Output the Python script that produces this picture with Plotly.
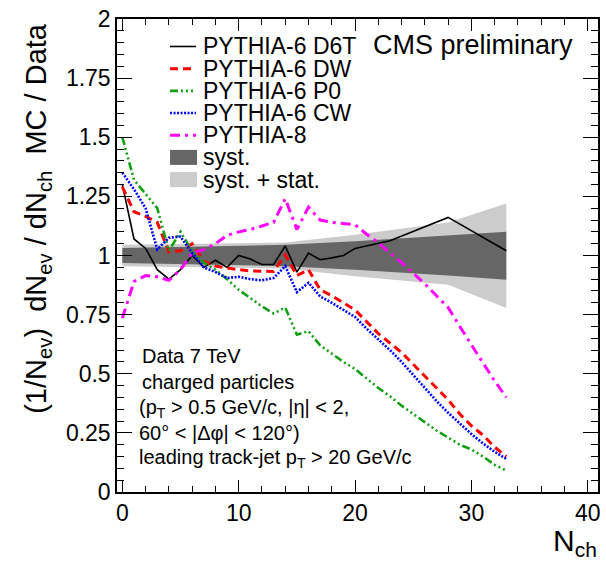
import plotly.graph_objects as go

# ---------------- data ----------------
nch = list(range(0, 34))

d6t_x = list(range(0, 21)) + [23, 28, 33]
d6t_y = [1.30, 1.07, 1.03, 0.94, 0.90, 0.94, 1.00, 0.95, 0.98, 0.95, 1.00, 0.985, 0.962, 0.962,
         1.04, 0.93, 1.01, 0.982, 0.99, 1.00, 1.03, 1.062, 1.161, 1.02]

dw_y = [1.29, 1.185, 1.165, 1.14, 1.015, 1.02, 1.05, 0.975, 0.955, 0.946, 0.94, 0.935, 0.932, 0.932,
        1.003, 0.915, 0.94, 0.855, 0.83, 0.80, 0.77, 0.72, 0.67, 0.63, 0.59, 0.54, 0.49, 0.44,
        0.39, 0.33, 0.28, 0.24, 0.19, 0.15]

p0_y = [1.50, 1.32, 1.26, 1.20, 1.02, 1.10, 1.02, 0.97, 0.94, 0.90, 0.855, 0.82, 0.785, 0.755,
        0.78, 0.665, 0.68, 0.62, 0.585, 0.55, 0.52, 0.48, 0.44, 0.405, 0.365, 0.33, 0.295, 0.26,
        0.23, 0.20, 0.18, 0.15, 0.115, 0.09]

cw_y = [1.35, 1.28, 1.20, 1.025, 1.075, 1.08, 1.01, 0.95, 0.93, 0.905, 0.91, 0.90, 0.895, 0.905,
        0.955, 0.845, 0.885, 0.827, 0.80, 0.77, 0.74, 0.69, 0.645, 0.60, 0.55, 0.495, 0.44, 0.385,
        0.335, 0.29, 0.245, 0.205, 0.17, 0.14]

py8_y = [0.735, 0.89, 0.915, 0.91, 0.895, 0.94, 1.01, 1.025, 1.05, 1.085, 1.10, 1.11, 1.125, 1.14,
         1.24, 1.11, 1.205, 1.15, 1.14, 1.135, 1.13, 1.09, 1.055, 1.01, 0.97, 0.925, 0.88, 0.83,
         0.78, 0.70, 0.62, 0.545, 0.47, 0.40]

band_x = [0, 14, 20, 28, 33]
syst_hi = [1.032, 1.045, 1.060, 1.085, 1.100]
syst_lo = [0.968, 0.955, 0.940, 0.915, 0.897]
tot_hi = [1.045, 1.055, 1.088, 1.140, 1.220]
tot_lo = [0.955, 0.945, 0.912, 0.876, 0.778]

y_tickvals = [0, 0.25, 0.5, 0.75, 1, 1.25, 1.5, 1.75, 2]
y_ticktext = ["0", "0.25", "0.5", "0.75", "1", "1.25", "1.5", "1.75", "2"]
x_tickvals = [0, 10, 20, 30, 40]
x_ticktext = ["0", "10", "20", "30", "40"]

legend_labels = ["PYTHIA-6 D6T", "PYTHIA-6 DW", "PYTHIA-6 P0", "PYTHIA-6 CW", "PYTHIA-8",
                 "syst.", "syst. + stat."]
info_lines = ["Data 7 TeV", "charged particles",
              "(p<sub>T</sub> > 0.5 GeV/c, |η| < 2,",
              "60° < |Δφ| < 120°)",
              "leading track-jet p<sub>T</sub> > 20 GeV/c"]

# ---------------- styling ----------------
W, H = 606, 569
L, R, T, B = 117, 597.7, 19, 492.3
FONT = "Liberation Sans, Arial, Helvetica, sans-serif"
GREEN = "#12a012"
DARK = "#666666"
LIGHT = "#cccccc"

styles = [
    dict(color="black", width=1.6, dash="solid"),
    dict(color="#ff0000", width=3, dash="8px,5px"),
    dict(color=GREEN, width=2.6, dash="8px,3px,2px,3px,2px,3px,2px,3px"),
    dict(color="#0000ff", width=2.6, dash="2px,1.5px"),
    dict(color="#ff00ff", width=3, dash="10px,5px,3px,5px"),
]


def px2x(px):
    return (px - L) / (R - L)


def py2y(py):
    return (B - py) / (B - T)


fig = go.Figure()

# bands
fig.add_trace(go.Scatter(x=band_x + band_x[::-1], y=tot_hi + tot_lo[::-1], fill="toself",
                         fillcolor=LIGHT, line=dict(width=0), mode="lines", showlegend=False,
                         hoverinfo="skip"))
fig.add_trace(go.Scatter(x=band_x + band_x[::-1], y=syst_hi + syst_lo[::-1], fill="toself",
                         fillcolor=DARK, line=dict(width=0), mode="lines", showlegend=False,
                         hoverinfo="skip"))

series = [(d6t_x, d6t_y), (nch, dw_y), (nch, p0_y), (nch, cw_y), (nch, py8_y)]
for (xs, ys), st, name in zip(series, styles, legend_labels):
    fig.add_trace(go.Scatter(x=xs, y=ys, mode="lines", line=st, name=name, showlegend=False))

shapes = []
annotations = []

# custom legend
row0, drow = 46.5, 22.2
for i, lab in enumerate(legend_labels):
    yc = row0 + i * drow
    if i < 5:
        st = styles[i]
        shapes.append(dict(type="line", xref="paper", yref="paper",
                           x0=px2x(170), x1=px2x(196), y0=py2y(yc), y1=py2y(yc),
                           line=dict(color=st["color"], width=st["width"], dash=st["dash"])))
    else:
        col = DARK if i == 5 else LIGHT
        shapes.append(dict(type="rect", xref="paper", yref="paper",
                           x0=px2x(170), x1=px2x(197), y0=py2y(yc - 7.5), y1=py2y(yc + 7.5),
                           fillcolor=col, line=dict(width=0)))
    annotations.append(dict(text=lab, xref="paper", yref="paper", x=px2x(201), y=py2y(yc),
                            xanchor="left", yanchor="middle", showarrow=False,
                            font=dict(family=FONT, size=23, color="black")))

annotations.append(dict(text="CMS preliminary", xref="paper", yref="paper", x=px2x(371),
                        y=py2y(45), xanchor="left", yanchor="middle", showarrow=False,
                        font=dict(family=FONT, size=27, color="black")))

info_y = [356.7, 382.7, 408.3, 433.3, 458.3]
info_x = [140, 140, 137, 137, 137]
for t, yy, xx in zip(info_lines, info_y, info_x):
    annotations.append(dict(text=t, xref="paper", yref="paper", x=px2x(xx), y=py2y(yy),
                            xanchor="left", yanchor="middle", showarrow=False,
                            font=dict(family=FONT, size=20, color="black")))

# axis titles
annotations.append(dict(text="N<sub>ch</sub>", xref="paper", yref="paper", x=px2x(599),
                        y=py2y(522), xanchor="right", yanchor="top", showarrow=False,
                        font=dict(family=FONT, size=30, color="black")))
ytitle = "(1/N<sub>ev</sub>)\u00a0\u00a0dN<sub>ev</sub>\u00a0/\u00a0dN<sub>ch</sub>\u00a0\u00a0MC\u00a0/\u00a0Data"
annotations.append(dict(text=ytitle, xref="paper", yref="paper", x=px2x(38), y=py2y(218),
                        xanchor="center", yanchor="middle", textangle=-90, showarrow=False,
                        font=dict(family=FONT, size=29, color="black")))

axis_common = dict(showgrid=False, zeroline=False, showline=True, linecolor="black",
                   linewidth=1.5, mirror="allticks", ticks="inside", tickcolor="black",
                   tickwidth=1.2, automargin=False,
                   tickfont=dict(family=FONT, size=23, color="black"))

fig.update_xaxes(range=[-0.46, 40.88], tickvals=x_tickvals, ticktext=x_ticktext, ticklen=12,
                 minor=dict(ticks="inside", dtick=2, tick0=0, ticklen=6, tickcolor="black",
                            tickwidth=1.2),
                 **axis_common)
fig.update_yaxes(range=[0, 2], tickvals=y_tickvals, ticktext=y_ticktext, ticklen=15,
                 minor=dict(ticks="inside", dtick=0.05, tick0=0, ticklen=7, tickcolor="black",
                            tickwidth=1.2),
                 **axis_common)

fig.update_layout(width=W, height=H, margin=dict(l=L, r=W - R, t=T, b=H - B, pad=0),
                  paper_bgcolor="white", plot_bgcolor="white", showlegend=False,
                  shapes=shapes, annotations=annotations, font=dict(family=FONT))

fig.write_html("out.html", config={"displayModeBar": False},
               post_script="document.body.style.margin='0px';document.body.style.overflow='hidden';")
